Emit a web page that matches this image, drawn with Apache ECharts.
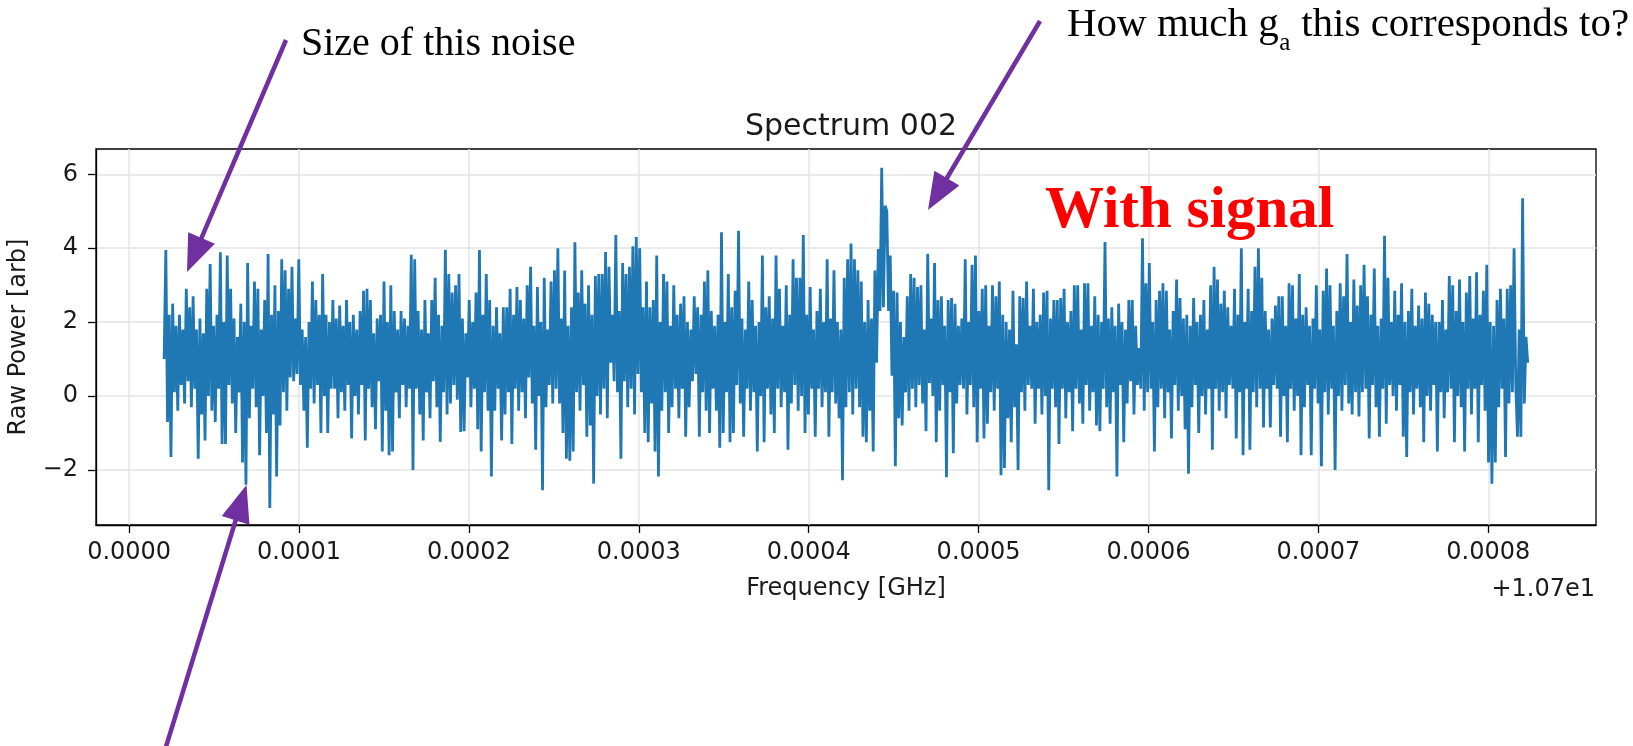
<!DOCTYPE html>
<html>
<head>
<meta charset="utf-8">
<script src="https://cdn.jsdelivr.net/npm/echarts@6/dist/echarts.min.js"></script>
<style>
html,body{margin:0;padding:0;background:#ffffff;}
#chart{width:1633px;height:746px;}
</style>
</head>
<body>
<div id="chart"></div>
<script>
// ---------------- data ----------------
// Frequency axis: offset from 10.7 GHz (shown as "+1.07e1")
const freqStart = 0.0000206;          // first sample, GHz offset
const freqEnd   = 0.0008232;          // last sample, GHz offset
const xTicks = [0, 0.0001, 0.0002, 0.0003, 0.0004, 0.0005, 0.0006, 0.0007, 0.0008];
const yTicks = [-2, 0, 2, 4, 6];
const xRange = [-0.0000195, 0.0008634];
const yRange = [-3.49, 6.685];
const titleText = 'Spectrum 002';
const xName = 'Frequency [GHz]';
const yName = 'Raw Power [arb]';
const offsetText = '+1.07e1';

// Raw power, sample by sample (estimated), in 8 consecutive blocks
const powerA = [
 1.0,3.95,-0.7,2.2,-1.65,2.5,0.1,1.9,-0.4,2.2,
 0.3,1.8,-0.2,2.9,0.4,2.4,-0.3,2.7,0.2,1.8,
 -1.7,2.1,-0.5,1.7,-1.2,2.9,0.0,3.57,-0.4,1.9,
 -0.7,2.2,0.2,3.89,-1.3,2.0,-1.3,3.8,0.3,2.9,
 -0.2,2.1,-1.0,1.6,0.1,2.5,-1.8,2.0,-2.4,3.6,
 -0.6,1.9,0.2,3.1,-0.3,2.9,-1.6,1.8,0.0,2.6,
 -1.0,3.84,-3.03,2.2,-0.5,3.0,-2.18,2.3,-0.8,3.7,
 0.1,3.4,-0.4,2.9,0.5,3.5,0.4,2.1,0.6,3.7,
 0.3,1.8,-0.4,1.6,-1.4,2.0,0.2,3.1,-0.2,2.6,
 0.3,2.2,-1.0,3.3,0.0,2.2,-1.0,2.0,0.2,2.6];
const powerB = [
 0.2,2.1,-0.6,2.45,0.1,1.9,-0.4,2.6,0.3,2.0,
 -1.15,2.2,0.0,1.8,-0.5,2.3,0.3,2.85,-1.2,2.9,
 0.2,2.6,-0.3,1.7,-0.9,2.1,0.4,2.2,-1.5,3.1,
 -0.4,2.0,-1.6,3.0,-1.5,2.3,0.1,1.8,-0.6,2.3,
 0.3,2.1,-0.3,1.9,0.2,3.82,-2.0,3.7,0.2,2.3,
 -0.5,1.8,-1.2,2.6,0.1,1.7,-0.6,2.6,0.4,3.2,
 -0.3,2.2,-1.24,1.9,0.1,3.96,-0.5,3.3,-0.2,2.8,
 0.3,3.0,-0.1,3.3,-0.97,2.1,-0.95,1.7,0.5,2.6,
 -0.3,2.0,0.2,2.8,-0.9,3.95,-1.5,2.2,0.1,3.3,
 -0.4,2.6,-2.18,1.9,-0.4,2.4,0.2,1.7,-1.2,2.4];
const powerC = [
 -0.5,2.4,0.1,2.9,-1.3,2.2,0.2,2.95,-0.4,2.6,
 0.1,2.1,-0.6,3.0,0.5,3.5,-0.2,1.9,-1.45,2.95,
 0.0,2.0,-2.55,3.2,-0.3,1.8,0.3,3.1,-0.2,3.4,
 0.2,4.0,-0.2,2.1,-1.0,3.4,-1.7,1.9,-1.75,2.4,
 -1.5,4.16,0.1,2.8,-0.4,3.4,0.3,2.5,-1.1,3.0,
 -0.8,2.2,-2.37,3.25,0.0,3.3,-0.5,3.3,0.2,3.9,
 -0.6,3.5,0.9,2.2,0.4,4.36,0.1,2.3,-1.7,3.6,
 0.4,3.3,-0.3,3.5,0.2,4.05,-0.5,4.3,0.6,4.0,
 0.1,2.4,-1.0,3.1,-1.25,2.4,-0.2,2.6,-1.5,3.8,
 -2.18,2.0,-0.4,3.3,0.1,3.1,-1.0,1.9,-0.3,3.0];
const powerD = [
 0.2,2.2,-0.6,2.5,0.2,2.7,-1.1,2.0,-0.3,1.8,
 0.4,2.7,0.6,2.4,-1.1,2.2,0.1,3.1,-0.4,3.4,
 -1.0,2.3,0.2,1.9,-0.4,2.2,-1.4,4.43,-1.0,2.0,
 0.1,3.3,-1.25,2.4,-1.0,2.85,0.3,4.47,-0.2,2.1,
 -1.1,1.8,0.2,3.1,-0.4,2.6,0.1,1.9,-1.5,2.0,
 0.0,3.8,-1.25,2.4,0.2,2.7,-0.5,2.1,-1.0,3.8,
 0.2,2.9,-0.3,1.9,0.1,3.0,-1.45,2.2,-0.2,3.7,
 0.3,3.2,-0.4,3.2,0.0,4.36,-1.0,2.2,-0.5,2.95,
 0.2,1.8,-1.1,2.3,0.2,2.9,-0.3,2.0,0.1,3.7,
 -1.1,2.1,0.1,3.4,-0.2,2.0,-0.6,1.8,-2.28,3.2];
const powerE = [
 -0.3,3.7,0.1,4.13,-0.5,3.7,0.2,3.4,-0.3,3.1,
 -1.1,2.0,-1.25,2.6,-0.4,2.1,-1.5,3.4,0.9,3.98,
 2.3,6.18,2.4,5.15,5.0,2.3,3.8,0.55,2.85,-1.9,
 2.8,-0.6,2.0,-0.8,1.6,0.1,2.7,-0.4,3.3,0.2,
 3.2,-0.3,2.95,0.3,3.0,-0.2,1.8,-0.95,3.85,0.35,
 2.1,0.0,3.6,-1.25,2.6,-0.4,2.7,0.3,1.9,-2.2,
 2.6,0.1,2.65,-1.55,2.5,-0.2,1.9,0.3,2.1,0.2,
 3.7,-0.5,2.0,0.3,3.55,-0.3,3.8,-1.25,2.3,0.2,
 2.9,-1.15,3.0,-0.75,1.9,0.1,3.0,-0.4,2.7,0.2,
 3.1,-2.14,2.2,-1.95,2.0,-0.6,1.8,-1.25,2.85,-0.3];
const powerF = [
 1.4,-2.0,2.7,0.1,2.65,-0.4,3.1,0.3,1.9,0.2,
 2.9,-0.75,2.0,0.2,2.2,-0.5,2.8,0.0,2.85,-2.55,
 2.1,0.2,2.6,-0.3,2.6,-1.3,2.65,0.2,2.9,-0.6,
 2.0,0.1,2.3,-0.95,3.0,0.2,3.0,-0.2,1.8,-0.75,
 3.05,0.3,3.05,-0.4,1.9,0.1,2.7,-0.8,2.2,-0.95,
 2.0,0.2,4.17,-0.3,2.1,-0.75,2.4,0.1,1.9,-2.18,
 2.5,0.3,2.0,-1.25,1.8,-0.2,2.6,0.4,2.6,-0.5,
 1.9,0.3,1.3,0.2,4.27,-0.4,3.05,0.1,3.6,0.2,
 2.0,-1.5,2.6,-0.3,2.85,0.2,3.05,-0.6,2.85,0.1,
 1.8,-1.15,2.3,0.3,3.15,-0.4,2.65,0.0,2.1,-0.9];
const powerG = [
 2.2,-2.1,1.9,-0.3,2.65,0.3,2.0,-1.0,2.2,0.0,
 2.6,-0.5,1.8,0.2,3.0,-1.45,3.5,0.2,3.15,-0.4,
 2.5,0.1,2.85,-0.6,2.4,0.3,1.9,0.2,2.9,-1.15,
 2.2,0.1,4.0,-1.6,2.0,0.2,2.9,-1.45,2.3,0.1,
 3.5,-0.3,4.0,0.2,3.2,-0.85,2.3,0.2,1.8,-0.85,
 2.1,0.3,2.45,0.2,2.7,-1.1,2.7,0.0,1.9,-1.25,
 3.05,0.2,3.0,-0.4,2.1,0.0,3.3,-1.6,2.2,-0.3,
 2.4,0.3,1.9,-1.6,2.1,0.2,3.0,-0.2,1.8,-1.9,
 2.85,0.1,3.45,-0.5,3.0,0.2,1.9,-2.0,2.3,0.0,
 3.05,-0.4,2.7,0.3,3.84,-0.2,2.0,-0.5,3.15,0.1];
const powerH = [
 2.45,-0.55,3.0,0.1,3.55,0.2,2.7,-1.15,2.2,0.3,
 3.45,-0.3,1.9,-1.1,2.1,0.2,4.34,-0.75,3.2,0.3,
 2.0,0.0,2.85,-0.4,2.2,0.3,3.05,-1.1,2.0,-1.65,
 2.3,0.1,2.9,-0.5,1.9,0.2,2.45,-0.3,2.1,-1.25,
 2.8,0.0,2.5,-0.4,2.2,0.3,2.0,-1.5,2.0,0.1,
 2.6,-0.6,1.8,0.1,3.25,0.2,3.0,-1.25,2.3,0.0,
 3.15,-0.3,2.0,-1.5,2.8,0.2,3.25,-0.5,2.1,0.2,
 3.35,-1.25,2.2,0.3,2.85,-0.4,3.55,-1.8,2.0,-2.37,
 1.9,-1.8,2.6,-0.3,2.9,0.2,2.1,-1.65,2.9,-0.2,
 3.0,0.1,4.0,0.3,-1.1,1.8,-1.1,5.35,-0.2,1.6,0.9];

// ---------------- build series ----------------
const power = [].concat(powerA, powerB, powerC, powerD, powerE, powerF, powerG, powerH);
const freqStep = (freqEnd - freqStart) / (power.length - 1);
const seriesData = power.map((v, i) => [freqStart + i * freqStep, v]);

// ---------------- styling ----------------
const SANS = '"DejaVu Sans", sans-serif';
const SERIF = '"Liberation Serif", serif';
const INK = '#1a1a1a';
const PURPLE = '#7030a0';

const measureCtx = document.createElement('canvas').getContext('2d');
function textWidth(t, font) { measureCtx.font = font; return measureCtx.measureText(t).width; }

function arrow(tail, tip, headLen, headW, lw, color) {
  const dx = tip[0] - tail[0], dy = tip[1] - tail[1];
  const L = Math.hypot(dx, dy), ux = dx / L, uy = dy / L;
  const bx = tip[0] - ux * headLen, by = tip[1] - uy * headLen;
  const px = -uy, py = ux;
  return [
    { type: 'line', z: 100, silent: true,
      shape: { x1: tail[0], y1: tail[1], x2: bx + ux * 3, y2: by + uy * 3 },
      style: { stroke: color, lineWidth: lw } },
    { type: 'polygon', z: 100, silent: true,
      shape: { points: [tip, [bx + px * headW / 2, by + py * headW / 2], [bx - px * headW / 2, by - py * headW / 2]] },
      style: { fill: color } }
  ];
}

function txt(text, x, y, font, fill, align) {
  return { type: 'text', z: 100, silent: true, x: x, y: y,
    style: { text: text, font: font, fill: fill, align: align || 'left', verticalAlign: 'middle',
             textAlign: align || 'left', textVerticalAlign: 'middle' } };
}

// annotation: "How much g_a this corresponds to?"
const annFont = '41px ' + SERIF;
const sizeFont = '40px ' + SERIF;
const subFont = '25px ' + SERIF;
const hmX = 1067, hmMid = 25;
const part1 = 'How much g';
const part2 = 'a';
const part3 = ' this corresponds to?';
const w1 = textWidth(part1, annFont);
const w2 = textWidth(part2, subFont);

const graphics = [].concat(
  arrow([286, 40], [187, 272], 37, 29, 4.5, PURPLE),
  arrow([1040, 21], [928, 210], 37, 29, 4.5, PURPLE),
  arrow([165, 750], [246.5, 485], 37, 29, 4.5, PURPLE),
  [
    txt('Size of this noise', 301, 44, sizeFont, '#000'),
    txt(part1, hmX, hmMid, annFont, '#000'),
    txt(part2, hmX + w1 + 0.5, hmMid + 18, subFont, '#000'),
    txt(part3, hmX + w1 + w2 + 1, hmMid, annFont, '#000'),
    txt('With signal', 1045, 212, 'bold 59px ' + SERIF, '#ff0000'),
    txt(offsetText, 1595, 590, '24px ' + SANS, INK, 'right')
  ]
);

const chart = echarts.init(document.getElementById('chart'), null, { renderer: 'canvas' });
chart.setOption({
  animation: false,
  backgroundColor: '#ffffff',
  title: {
    text: titleText, left: 846, top: 107, textAlign: 'center',
    textStyle: { fontFamily: SANS, fontSize: 30, fontWeight: 'normal', color: INK }
  },
  grid: {
    left: 96, right: 37, top: 149, bottom: 221,
    show: true, borderColor: '#000', borderWidth: 1.3,
    containLabel: false, outerBoundsMode: 'none'
  },
  xAxis: {
    type: 'value', min: xRange[0], max: xRange[1],
    axisLine: { show: true, onZero: false, lineStyle: { color: '#000', width: 1.3 } },
    axisTick: { show: true, length: 8, customValues: xTicks, lineStyle: { color: '#000', width: 1.3 } },
    axisLabel: { customValues: xTicks, margin: 16, fontFamily: SANS, fontSize: 24, color: INK,
                 formatter: v => v.toFixed(4) },
    splitLine: { show: true, lineStyle: { color: '#e4e4e4', width: 1.5 } },
    name: xName, nameLocation: 'middle', nameGap: 52,
    nameTextStyle: { fontFamily: SANS, fontSize: 24, color: INK }
  },
  yAxis: {
    type: 'value', min: yRange[0], max: yRange[1],
    axisLine: { show: true, onZero: false, lineStyle: { color: '#000', width: 1.3 } },
    axisTick: { show: true, length: 8, customValues: yTicks, lineStyle: { color: '#000', width: 1.3 } },
    axisLabel: { customValues: yTicks, margin: 18, fontFamily: SANS, fontSize: 24, color: INK,
                 formatter: v => (v < 0 ? '\u2212' : '') + Math.abs(v) },
    splitLine: { show: true, lineStyle: { color: '#e4e4e4', width: 1.5 } },
    name: yName, nameLocation: 'middle', nameGap: 65,
    nameTextStyle: { fontFamily: SANS, fontSize: 24, color: INK }
  },
  series: [{
    type: 'line', data: seriesData, showSymbol: false, symbol: 'none',
    lineStyle: { color: '#1f77b4', width: 2.8 }, itemStyle: { color: '#1f77b4' },
    silent: true, clip: true
  }],
  graphic: { elements: graphics }
});
</script>
</body>
</html>
